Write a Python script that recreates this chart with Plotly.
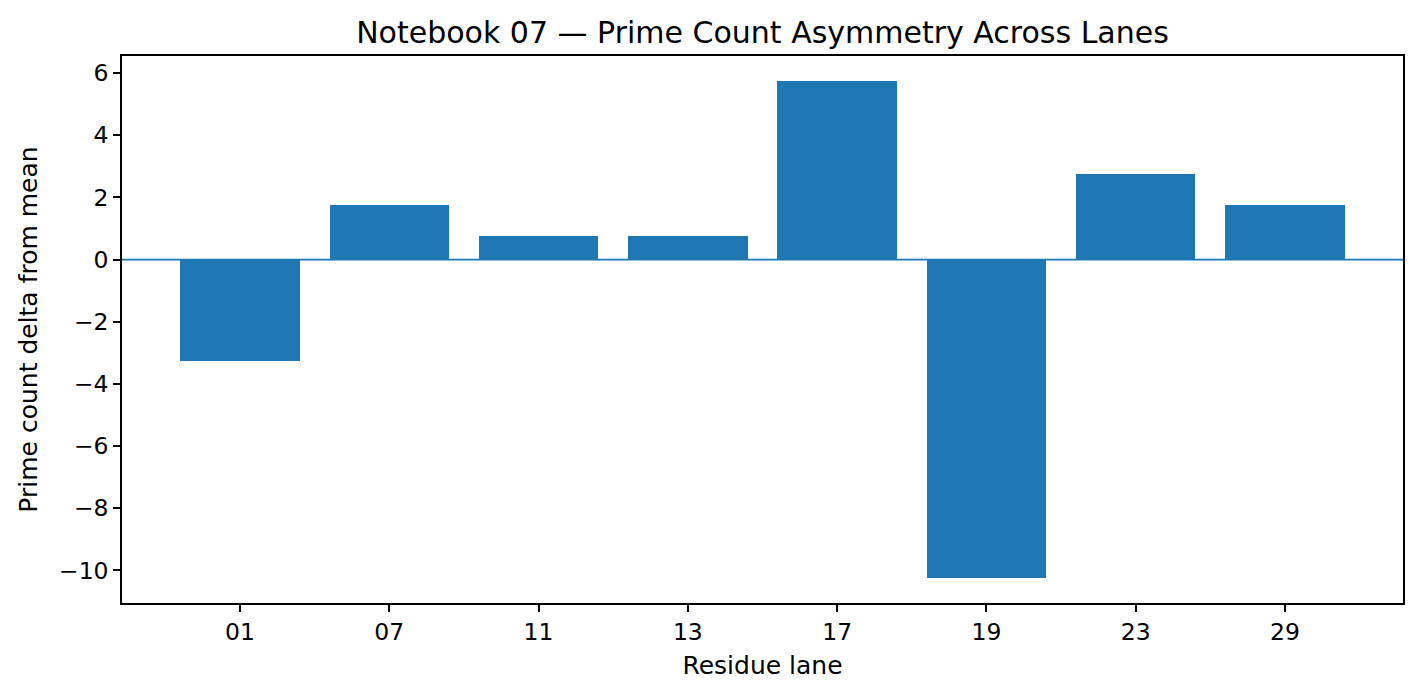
import plotly.graph_objects as go

lanes = ["01", "07", "11", "13", "17", "19", "23", "29"]
deltas = [-3.25, 1.75, 0.75, 0.75, 5.75, -10.25, 2.75, 1.75]
yticks = [-10, -8, -6, -4, -2, 0, 2, 4, 6]
ytick_text = ["\u221210", "\u22128", "\u22126", "\u22124", "\u22122", "0", "2", "4", "6"]

xs = list(range(len(lanes)))

fig = go.Figure()
fig.add_trace(go.Bar(x=xs, y=deltas, width=0.8, marker=dict(color="#1f77b4", line=dict(width=0)),
                     hoverinfo="x+y"))

fig.add_shape(type="line", xref="paper", x0=0, x1=1, yref="y", y0=0, y1=0,
              line=dict(color="#1f77b4", width=1.8), layer="above")

font = "DejaVu Sans, sans-serif"
TICK = 23.5
LAB = 25
fig.update_layout(
    width=1420, height=697,
    margin=dict(l=122, r=17, t=56, b=94),
    paper_bgcolor="white", plot_bgcolor="white",
    showlegend=False,
    bargap=0,
    title=dict(text="Notebook 07 \u2014 Prime Count Asymmetry Across Lanes",
               x=0.5, xanchor="center", xref="paper", y=1 - 32/697, yanchor="middle",
               font=dict(family=font, size=30, color="black")),
    font=dict(family=font, size=TICK, color="black"),
)
fig.update_xaxes(
    range=[-0.79, 7.79], tickmode="array", tickvals=xs, ticktext=lanes,
    showline=True, linecolor="black", linewidth=1.5, mirror=True,
    ticks="outside", ticklen=7, tickwidth=1.5, tickcolor="black",
    showgrid=False, zeroline=False,
    title=dict(text="Residue lane", font=dict(family=font, size=LAB), standoff=12),
    tickfont=dict(family=font, size=TICK),
)
fig.update_yaxes(
    range=[-11.05, 6.55], tickmode="array", tickvals=yticks, ticktext=ytick_text,
    showline=True, linecolor="black", linewidth=1.5, mirror=True,
    ticks="outside", ticklen=7, tickwidth=1.5, tickcolor="black",
    showgrid=False, zeroline=False,
    title=dict(text="Prime count delta from mean", font=dict(family=font, size=LAB), standoff=14),
    tickfont=dict(family=font, size=TICK),
)

fig.write_html("out.html")
